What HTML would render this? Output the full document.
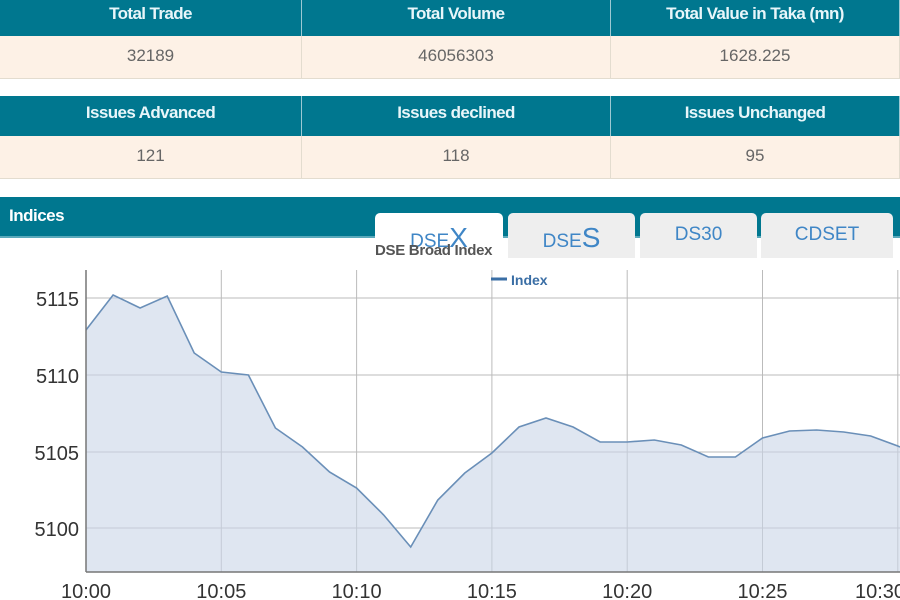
<!DOCTYPE html>
<html><head><meta charset="utf-8"><style>
body{margin:0;width:900px;height:600px;overflow:hidden;background:#fff;font-family:"Liberation Sans",sans-serif;position:relative}
.r{position:absolute;left:0;width:900px;display:flex}
.r div{box-sizing:border-box;text-align:center;border-right:1px solid #e3dccf}
.h{background:#00778f;color:#e8f6fa;font-weight:bold;font-size:17px;letter-spacing:-0.6px}
.h div{border-right:1px solid #9cc9d3}
.d{background:#fdf1e6;color:#666;font-size:17px;border-bottom:1px solid #e3dccf}
.c1{width:302px}.c2{width:309px}.c3{width:289px}
.tab{position:absolute;top:213px;height:45px;background:#eeeeee;border-radius:5px 5px 0 0;color:#3f86c6;font-size:19px;text-align:center;line-height:44px}
</style></head><body>
<div class="r h" style="top:0;height:36px;line-height:28px"><div class="c1">Total Trade</div><div class="c2">Total Volume</div><div class="c3">Total Value in Taka (mn)</div></div>
<div class="r d" style="top:36px;height:42px;line-height:40px"><div class="c1">32189</div><div class="c2">46056303</div><div class="c3">1628.225</div></div>
<div class="r h" style="top:96px;height:40px;line-height:34px"><div class="c1">Issues Advanced</div><div class="c2">Issues declined</div><div class="c3">Issues Unchanged</div></div>
<div class="r d" style="top:136px;height:42px;line-height:40px"><div class="c1">121</div><div class="c2">118</div><div class="c3">95</div></div>
<div style="position:absolute;top:197px;left:0;width:900px;height:39px;background:#00778f"></div>
<div style="position:absolute;top:236px;left:0;width:900px;height:2px;background:#5aa9bb"></div>
<div style="position:absolute;top:206px;left:9px;color:#fff;font-weight:bold;font-size:17px;letter-spacing:-0.5px">Indices</div>
<div class="tab" style="left:375px;width:128px;background:#fff;line-height:50px">DSE<span style="font-size:28px">X</span></div>
<div class="tab" style="left:508px;width:127px;line-height:50px">DSE<span style="font-size:28px">S</span></div>
<div class="tab" style="left:640px;width:117px">DS30</div>
<div class="tab" style="left:761px;width:132px">CDSET</div>
<div style="position:absolute;top:242px;left:375px;font-size:15px;font-weight:bold;color:#555;letter-spacing:-0.3px">DSE Broad Index</div>
<svg style="position:absolute;left:0;top:0" width="900" height="600">
<g stroke="#bbb" stroke-width="1">
<line x1="221.3" y1="270" x2="221.3" y2="572"/><line x1="356.6" y1="270" x2="356.6" y2="572"/><line x1="491.9" y1="270" x2="491.9" y2="572"/><line x1="627.2" y1="270" x2="627.2" y2="572"/><line x1="762.5" y1="270" x2="762.5" y2="572"/><line x1="897.8" y1="270" x2="897.8" y2="572"/>
<line x1="86" y1="298" x2="900" y2="298"/><line x1="86" y1="375" x2="900" y2="375"/><line x1="86" y1="452" x2="900" y2="452"/><line x1="86" y1="528" x2="900" y2="528"/>
</g>
<polygon fill="#c9d6e7" fill-opacity="0.6" points="86,572 86,330 113.1,295 140.1,308 167.2,296 194.2,353 221.3,372 248.4,375 275.4,428 302.5,447 329.5,472 356.6,488 383.7,515 410.7,547 437.8,500 464.8,473 491.9,453 519,427 546,418 573.1,427 600.1,442 627.2,442 654.3,440 681.3,445 708.4,457 735.4,457 762.5,438 789.6,431 816.6,430 843.7,432 870.7,436 897.8,446 900,447 900,572"/>
<polyline fill="none" stroke="#6a8fb8" stroke-width="1.6" points="86,330 113.1,295 140.1,308 167.2,296 194.2,353 221.3,372 248.4,375 275.4,428 302.5,447 329.5,472 356.6,488 383.7,515 410.7,547 437.8,500 464.8,473 491.9,453 519,427 546,418 573.1,427 600.1,442 627.2,442 654.3,440 681.3,445 708.4,457 735.4,457 762.5,438 789.6,431 816.6,430 843.7,432 870.7,436 897.8,446 900,447"/>
<line x1="86" y1="270" x2="86" y2="572" stroke="#777" stroke-width="1.5"/>
<line x1="86" y1="572" x2="900" y2="572" stroke="#777" stroke-width="1.5"/>
<line x1="491" y1="279" x2="507" y2="279" stroke="#3a6ea5" stroke-width="3"/>
<text x="511" y="285" font-size="14" font-weight="bold" fill="#3a6ea5" font-family="Liberation Sans">Index</text>
<g font-family="Liberation Sans" font-size="20" fill="#333" text-anchor="end">
<text x="79" y="306">5115</text><text x="79" y="383">5110</text><text x="79" y="460">5105</text><text x="79" y="536">5100</text>
</g>
<g font-family="Liberation Sans" font-size="20" fill="#333" text-anchor="middle">
<text x="86" y="598">10:00</text><text x="221.3" y="598">10:05</text><text x="356.6" y="598">10:10</text><text x="491.9" y="598">10:15</text><text x="627.2" y="598">10:20</text><text x="762.5" y="598">10:25</text><text x="880" y="598">10:30</text>
</g>
</svg>
</body></html>
